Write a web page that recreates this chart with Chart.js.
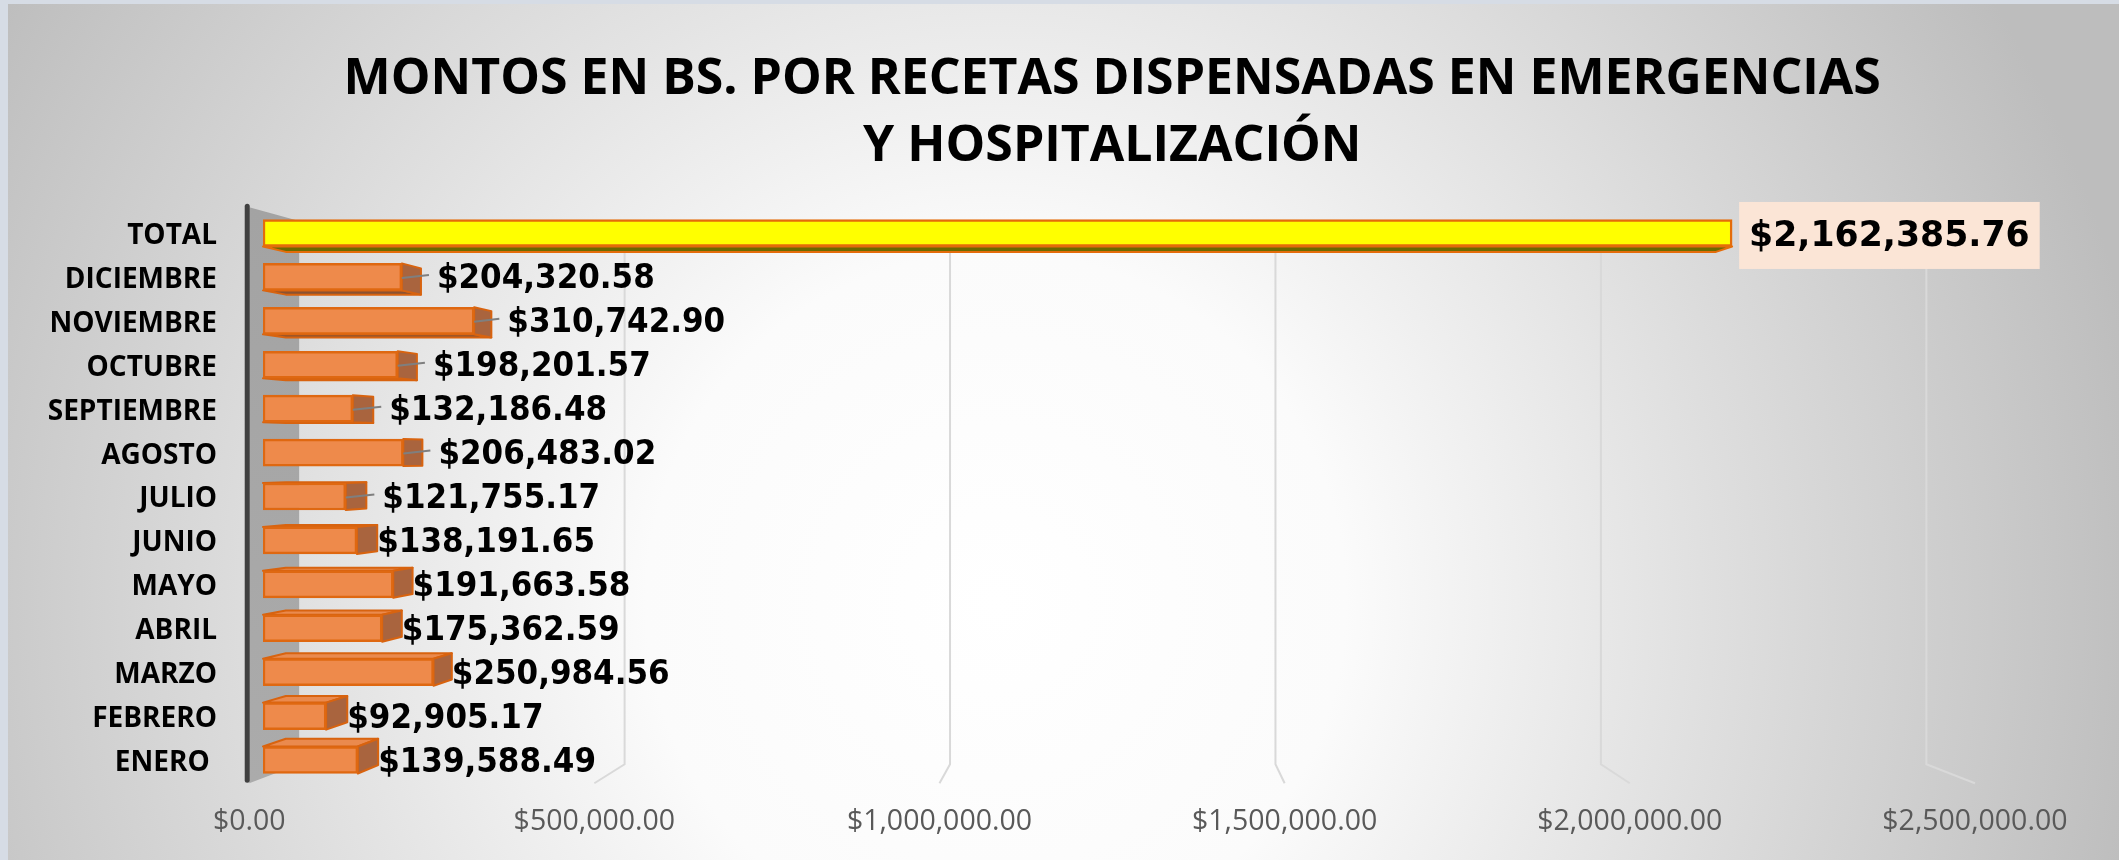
<!DOCTYPE html>
<html>
<head>
<meta charset="utf-8">
<title>Montos por recetas dispensadas</title>
<script src="https://cdn.jsdelivr.net/npm/chart.js@4.4.1/dist/chart.umd.min.js"></script>
<style>
  html, body { margin: 0; padding: 0; background: #d6dce5; }
  canvas { display: block; }
</style>
</head>
<body>
<canvas id="graficoMontos" width="2119" height="860"></canvas>
<script>
var meses = ['ENERO ', 'FEBRERO', 'MARZO', 'ABRIL', 'MAYO', 'JUNIO', 'JULIO', 'AGOSTO', 'SEPTIEMBRE', 'OCTUBRE', 'NOVIEMBRE', 'DICIEMBRE'];
var montos = [139588.49, 92905.17, 250984.56, 175362.59, 191663.58, 138191.65, 121755.17, 206483.02, 132186.48, 198201.57, 310742.90, 204320.58];
var etiquetaTotal = 'TOTAL';
var montoTotal = 2162385.76;
var ejeMin = 0;
var ejeMax = 2500000;
var ejePaso = 500000;
var tituloLineas = ['MONTOS EN BS. POR RECETAS DISPENSADAS EN EMERGENCIAS', 'Y HOSPITALIZACIÓN'];
// en el original estas etiquetas estan separadas de la barra con linea guia
var conGuia = ['JULIO', 'AGOSTO', 'SEPTIEMBRE', 'OCTUBRE', 'NOVIEMBRE', 'DICIEMBRE'];

/* ------------------------- efecto 3d ------------------------- */
var prof = { frente: -0.016, barra: 0.0265, fondo: 0.042 };

function fuga(chart) {
  var a = chart.chartArea;
  return { x: a.left + (a.right - a.left) * 0.507, y: a.top + (a.bottom - a.top) * 0.42 };
}
function proyectar(chart, x, y, d) {
  var f = fuga(chart);
  return [x + (f.x - x) * d, y + (f.y - y) * d];
}
function dinero(v) {
  return '$' + v.toLocaleString('en-US', { minimumFractionDigits: 2, maximumFractionDigits: 2 });
}
function poligono(ctx, pts, relleno, borde) {
  ctx.beginPath();
  ctx.moveTo(pts[0][0], pts[0][1]);
  for (var i = 1; i < pts.length; i++) ctx.lineTo(pts[i][0], pts[i][1]);
  ctx.closePath();
  ctx.fillStyle = relleno;
  ctx.fill();
  if (borde) { ctx.strokeStyle = borde; ctx.stroke(); }
}
// texto algo angosto, como la fuente del original
function textoAngosto(ctx, texto, x, y, escala) {
  ctx.save();
  ctx.translate(x, y);
  ctx.scale(escala, 1);
  ctx.fillText(texto, 0, 0);
  ctx.restore();
}

var escena3d = {
  id: 'escena3d',
  beforeDraw: function (chart) {
    var ctx = chart.ctx, w = chart.width, h = chart.height;
    ctx.save();
    ctx.fillStyle = '#d6dce5';
    ctx.fillRect(0, 0, w, h);
    var g = ctx.createRadialGradient(w * 0.47, h * 0.7, 0, w * 0.47, h * 0.7, w * 0.55);
    g.addColorStop(0, '#ffffff');
    g.addColorStop(0.3, '#fbfbfb');
    g.addColorStop(1, '#bdbdbd');
    ctx.fillStyle = g;
    ctx.fillRect(8, 4, w - 8, h - 4);
    ctx.restore();
  },
  beforeDatasetsDraw: function (chart) {
    var ctx = chart.ctx, a = chart.chartArea, sx = chart.scales.x;
    var piso = a.bottom - 4;
    var f = fuga(chart);
    ctx.save();

    // pared lateral
    var p1 = proyectar(chart, a.left, a.top, prof.frente);
    var p2 = proyectar(chart, a.left, a.top, prof.fondo);
    var p3 = proyectar(chart, a.left, piso, prof.fondo);
    var p4 = proyectar(chart, a.left, piso, prof.frente);
    var gp = ctx.createLinearGradient(0, p1[1], 0, p4[1]);
    gp.addColorStop(0, '#a3a3a3');
    gp.addColorStop(1, '#ababab');
    poligono(ctx, [p1, p2, p3, p4], gp);

    // lineas de division (pared del fondo y piso)
    ctx.strokeStyle = '#d9d9d9';
    ctx.lineWidth = 2;
    sx.ticks.forEach(function (t) {
      if (t.value === ejeMin) return;
      var px = sx.getPixelForValue(t.value);
      var arriba = proyectar(chart, px, a.top, prof.fondo);
      var abajo = proyectar(chart, px, piso, prof.fondo);
      var frente = proyectar(chart, px, piso, prof.frente);
      ctx.beginPath();
      ctx.moveTo(arriba[0], arriba[1]);
      ctx.lineTo(abajo[0], abajo[1]);
      ctx.lineTo(frente[0], frente[1]);
      ctx.stroke();
    });

    // eje vertical oscuro
    ctx.strokeStyle = '#404040';
    ctx.lineWidth = 5;
    ctx.lineCap = 'round';
    ctx.beginPath();
    ctx.moveTo(p1[0] - 2, p1[1] - 1);
    ctx.lineTo(p4[0] - 2, p4[1] - 3);
    ctx.stroke();

    // caras laterales de las barras
    ctx.lineWidth = 2;
    ctx.lineJoin = 'round';
    var meta = chart.getDatasetMeta(0);
    meta.data.forEach(function (el, i) {
      var p = el.getProps(['x', 'y', 'base', 'height'], true);
      var x0 = p.base, x1 = p.x, y0 = p.y - p.height / 2, y1 = p.y + p.height / 2;
      var esTotal = chart.data.labels[i] === etiquetaTotal;
      var borde = esTotal ? '#e46c0a' : '#d8630f';
      var b = function (xx, yy) { return proyectar(chart, xx, yy, prof.barra); };
      if (f.y > y1) {
        poligono(ctx, [[x0, y1], [x1, y1], b(x1, y1), b(x0, y1)], esTotal ? '#6b6b00' : '#8c5231', borde);
      }
      if (f.y < y0) {
        poligono(ctx, [[x0, y0], [x1, y0], b(x1, y0), b(x0, y0)], esTotal ? '#d6d600' : '#ea8a4e', borde);
      }
      if (f.x > x1) {
        poligono(ctx, [[x1, y0], b(x1, y0), b(x1, y1), [x1, y1]], esTotal ? '#a3a300' : '#a9643e', borde);
      }
    });
    ctx.restore();
  },
  afterDatasetsDraw: function (chart) {
    var ctx = chart.ctx, a = chart.chartArea, sx = chart.scales.x;
    var piso = a.bottom - 4;
    ctx.save();

    // etiquetas de valores
    var meta = chart.getDatasetMeta(0);
    ctx.textBaseline = 'middle';
    ctx.textAlign = 'left';
    meta.data.forEach(function (el, i) {
      var p = el.getProps(['x', 'y'], true);
      var valor = chart.data.datasets[0].data[i];
      var etiqueta = chart.data.labels[i];
      var texto = dinero(valor);
      if (etiqueta === etiquetaTotal) {
        ctx.font = 'bold 35px "DejaVu Sans"';
        var w = ctx.measureText(texto).width * 0.99;
        var bx = p.x + 7;
        ctx.fillStyle = '#fbe5d6';
        ctx.fillRect(bx, p.y - 31, w + 20, 67);
        ctx.fillStyle = '#000000';
        textoAngosto(ctx, texto, bx + 10, p.y + 4, 0.99);
      } else {
        ctx.font = 'bold 33px "DejaVu Sans"';
        var atras = proyectar(chart, p.x, p.y, prof.barra)[0];
        var tx = Math.max(atras, p.x);
        if (conGuia.indexOf(etiqueta) >= 0) {
          ctx.strokeStyle = '#7f7f7f';
          ctx.lineWidth = 2;
          ctx.beginPath();
          ctx.moveTo(p.x, p.y + 1);
          ctx.lineTo(tx + 8, p.y - 2);
          ctx.stroke();
          tx += 16;
        }
        ctx.fillStyle = '#000000';
        textoAngosto(ctx, texto, tx, p.y + 3, 0.94);
      }
    });

    // etiquetas del eje x sobre el borde del piso
    ctx.font = '28.5px "Open Sans"';
    ctx.fillStyle = '#595959';
    ctx.textAlign = 'center';
    sx.ticks.forEach(function (t) {
      var px = sx.getPixelForValue(t.value);
      var fr = proyectar(chart, px, piso, prof.frente);
      ctx.fillText(dinero(t.value), fr[0], a.bottom + 40);
    });
    ctx.restore();
  }
};

/* ------------------------- grafico ------------------------- */
var etiquetas = meses.concat([etiquetaTotal]);
var valores = montos.concat([montoTotal]);

var ctx = document.getElementById('graficoMontos').getContext('2d');
var graficoMontos = new Chart(ctx, {
  type: 'bar',
  data: {
    labels: etiquetas,
    datasets: [{
      label: 'Montos',
      data: valores,
      backgroundColor: etiquetas.map(function (e) { return e === etiquetaTotal ? '#ffff00' : '#ee8a4b'; }),
      borderColor: etiquetas.map(function (e) { return e === etiquetaTotal ? '#e46c0a' : '#df6811'; }),
      borderWidth: 2.5,
      borderSkipped: false,
      barThickness: 27
    }]
  },
  options: {
    indexAxis: 'y',
    responsive: false,
    animation: false,
    devicePixelRatio: 1,
    layout: { padding: { left: 0, right: 157.5, top: 0, bottom: 0 } },
    plugins: {
      legend: { display: false },
      tooltip: { enabled: false },
      title: {
        display: true,
        text: tituloLineas,
        fullSize: false,
        color: '#000000',
        font: { family: '"Open Sans"', size: 50, weight: 'bold', lineHeight: 1.34 },
        padding: { top: 46, bottom: 31 }
      }
    },
    scales: {
      x: {
        min: ejeMin,
        max: ejeMax,
        ticks: { display: false, stepSize: ejePaso },
        grid: { display: false, drawTicks: false },
        border: { display: false },
        afterFit: function (s) { s.height = 78; }
      },
      y: {
        reverse: true,
        grid: { display: false, drawTicks: false },
        border: { display: false },
        ticks: {
          color: '#000000',
          padding: 46,
          labelOffset: 3,
          font: { family: '"Open Sans"', size: 28, weight: 'bold' }
        },
        afterFit: function (s) { s.width = 263; }
      }
    }
  },
  plugins: [escena3d]
});
</script>
</body>
</html>
